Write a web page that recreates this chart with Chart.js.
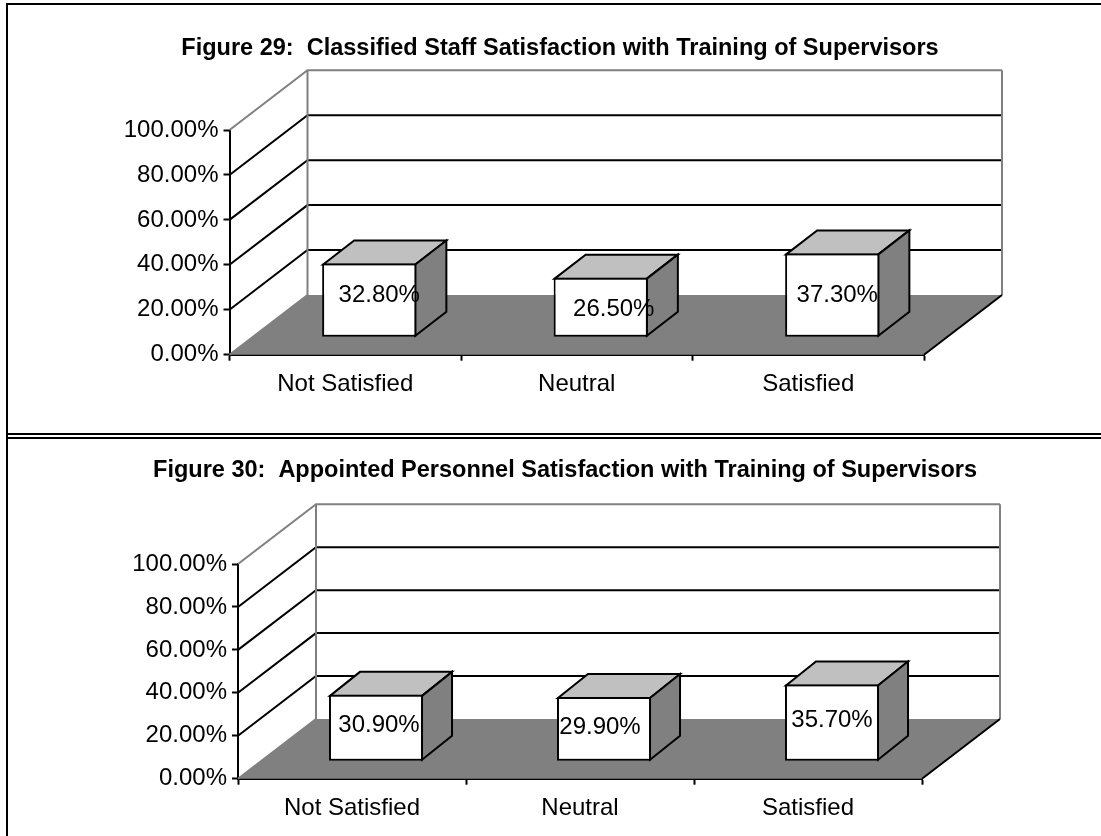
<!DOCTYPE html>
<html><head><meta charset="utf-8">
<script src="https://cdn.jsdelivr.net/npm/chart.js@4"></script>
<style>
html,body{margin:0;padding:0;background:#fff;overflow:hidden}
#page{position:relative;width:1101px;height:836px;background:#fff;overflow:hidden}
canvas{position:absolute;left:0}
.l{position:absolute;background:#000}
</style></head><body>
<div id="page">
<div class="l" style="left:6px;top:3px;width:1095px;height:2px"></div>
<div class="l" style="left:6px;top:3px;width:2px;height:833px"></div>
<div class="l" style="left:6px;top:433px;width:1095px;height:2px"></div>
<div class="l" style="left:6px;top:437px;width:1095px;height:2px"></div>
<canvas id="c1" style="top:0" width="1120" height="432"></canvas>
<canvas id="c2" style="top:439px" width="1130" height="397"></canvas>
</div>
<script>
const categories = ['Not Satisfied', 'Neutral', 'Satisfied'];
const valuesFig29 = [32.8, 26.5, 37.3];
const valuesFig30 = [30.9, 29.9, 35.7];
const titleFig29 = 'Figure 29:  Classified Staff Satisfaction with Training of Supervisors';
const titleFig30 = 'Figure 30:  Appointed Personnel Satisfaction with Training of Supervisors';
const labelNudge29 = [[10, -5], [13, 2], [5, 0]];
const labelNudge30 = [[3, -2], [-4, -1], [0, -2]];

const FONT = '"Liberation Sans", Arial, sans-serif';
function box3d(opts){
  return {
    id:'box3d',
    beforeDatasetsDraw(chart){
      const {ctx, scales:{x,y}} = chart;
      const L=x.left,R=x.right, dx=opts.dx, dy=opts.dy;
      const y0=y.getPixelForValue(0);
      ctx.save();
      ctx.fillStyle='#808080';
      ctx.beginPath();ctx.moveTo(L,y0);ctx.lineTo(L+dx,y0+dy);ctx.lineTo(R+dx,y0+dy);ctx.lineTo(R,y0);ctx.closePath();ctx.fill();
      y.ticks.forEach(t=>{
        if(t.value===0) return;
        const p=y.getPixelForValue(t.value);
        ctx.strokeStyle=t.value===100?'#808080':'#000';
        ctx.lineWidth=2;
        ctx.beginPath();ctx.moveTo(L,p);ctx.lineTo(L+dx,p+dy);ctx.lineTo(R+dx,p+dy);ctx.stroke();
      });
      const yt=y.getPixelForValue(100);
      ctx.strokeStyle='#808080';ctx.lineWidth=2;
      ctx.beginPath();ctx.moveTo(L+dx,yt+dy);ctx.lineTo(L+dx,y0+dy);ctx.lineTo(L,y0);ctx.stroke();
      ctx.beginPath();ctx.moveTo(R+dx,yt+dy);ctx.lineTo(R+dx,y0+dy);ctx.stroke();
      ctx.strokeStyle='#000';ctx.lineWidth=2;
      ctx.beginPath();ctx.moveTo(R+dx,y0+dy);ctx.lineTo(R,y0);ctx.stroke();
      ctx.restore();
      const meta=chart.getDatasetMeta(0);
      const sx=opts.shiftX, sy=opts.shiftY, bx=opts.barDx, by=opts.barDy;
      ctx.save();
      ctx.translate(sx,sy);
      ctx.strokeStyle='#000';ctx.lineWidth=2;ctx.lineJoin='miter';
      meta.data.forEach(el=>{
        const l=el.x-el.width/2+1,r=el.x+el.width/2-1,t=el.y+1,bt=el.base-1;
        ctx.fillStyle='#C0C0C0';
        ctx.beginPath();ctx.moveTo(l,t);ctx.lineTo(l+bx,t+by);ctx.lineTo(r+bx,t+by);ctx.lineTo(r,t);ctx.closePath();ctx.fill();ctx.stroke();
        ctx.fillStyle='#808080';
        ctx.beginPath();ctx.moveTo(r,t);ctx.lineTo(r+bx,t+by);ctx.lineTo(r+bx,bt+by);ctx.lineTo(r,bt);ctx.closePath();ctx.fill();ctx.stroke();
      });
      ctx.restore();
      ctx.save();
      ctx.translate(sx,sy);
    },
    afterDatasetsDraw(chart){
      const {ctx}=chart;
      ctx.restore();
      const meta=chart.getDatasetMeta(0), ds=chart.data.datasets[0];
      ctx.save();
      ctx.fillStyle='#000';ctx.font='24px '+FONT;ctx.textAlign='center';ctx.textBaseline='middle';
      meta.data.forEach((el,i)=>{
        const n=opts.nudge[i];
        const cy=(el.y+el.base)/2+opts.shiftY+n[1];
        ctx.fillText(ds.data[i].toFixed(2)+'%',el.x+opts.shiftX+n[0],cy);
      });
      ctx.restore();
    }
  };
}
function make(id,title,values,g){
  return new Chart(document.getElementById(id),{
    type:'bar',
    data:{labels:categories,datasets:[{data:values,backgroundColor:'#fff',borderColor:'#000',borderWidth:2,borderSkipped:false,barPercentage:g.barPct,categoryPercentage:1,yAxisID:'y'}]},
    plugins:[box3d(g)],
    options:{
      responsive:false,animation:false,
      layout:{padding:{left:0,right:0,top:g.padT,bottom:0}},
      plugins:{
        legend:{display:false},tooltip:{enabled:false},
        title:{display:true,text:title,color:'#000',font:{family:FONT,size:23.5,weight:'bold'},padding:{top:0,bottom:g.titleBottom}}
      },
      scales:{
        x:{
          grid:{offset:true,drawOnChartArea:false,tickLength:6,tickColor:'#000',tickWidth:2},
          border:{color:'#000',width:2},
          ticks:{color:'#000',font:{family:FONT,size:24},padding:9,maxRotation:0,autoSkip:false},
          afterFit(s){s.height=g.xH;}
        },
        y:{
          min:0,max:100,
          grid:{drawOnChartArea:false,tickLength:6,tickColor:'#000',tickWidth:2},
          border:{color:'#000',width:2},
          ticks:{stepSize:20,color:'#000',font:{family:FONT,size:24},padding:5,callback:v=>v.toFixed(2)+'%'},
          afterFit(s){s.width=g.axisW;}
        },
        yR:{
          position:'right',min:0,max:1,
          grid:{display:false},border:{display:false},ticks:{display:false},
          afterFit(s){s.width=g.rightW;}
        }
      }
    }
  });
}
make('c1',titleFig29,valuesFig29,{dx:78,dy:-59.7,shiftX:24,shiftY:-17.5,barDx:31,barDy:-24,barPct:0.407,nudge:labelNudge29,padT:34,titleBottom:67.8,xH:77.3,axisW:229.5,rightW:196});
make('c2',titleFig30,valuesFig30,{dx:78,dy:-59.7,shiftX:24,shiftY:-17.5,barDx:30,barDy:-24,barPct:0.4125,nudge:labelNudge30,padT:17,titleBottom:79.8,xH:57.3,axisW:238,rightW:208});
</script>
</body></html>
